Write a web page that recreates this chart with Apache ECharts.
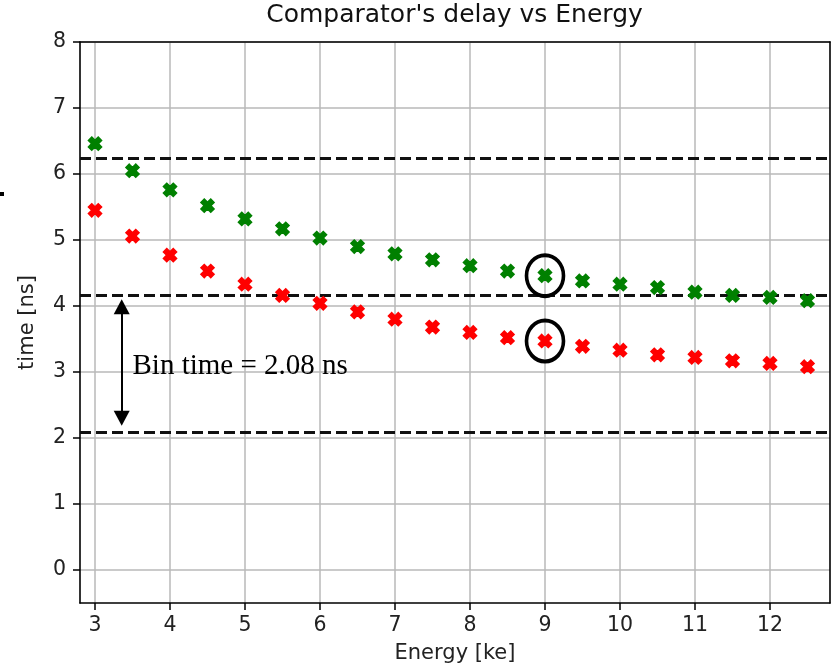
<!DOCTYPE html>
<html>
<head>
<meta charset="utf-8">
<script src="https://cdn.jsdelivr.net/npm/echarts@6/dist/echarts.min.js"></script>
<style>
  html, body { margin: 0; padding: 0; background: #fff; }
  #chart { width: 831px; height: 669px; }
</style>
</head>
<body>
<div id="chart"></div>
<script>
// Comparator delay (ns) measured at each deposited energy (ke)
const energy = [3, 3.5, 4, 4.5, 5, 5.5, 6, 6.5, 7, 7.5, 8, 8.5, 9, 9.5, 10, 10.5, 11, 11.5, 12, 12.5];
const delayGreen = [6.46, 6.05, 5.76, 5.52, 5.32, 5.17, 5.03, 4.90, 4.79, 4.70, 4.61, 4.53, 4.46, 4.38, 4.33, 4.28, 4.21, 4.16, 4.13, 4.08];
const delayRed   = [5.45, 5.06, 4.77, 4.53, 4.33, 4.16, 4.04, 3.91, 3.80, 3.68, 3.60, 3.52, 3.47, 3.39, 3.33, 3.26, 3.22, 3.17, 3.13, 3.08];

// Bin boundaries (multiples of the 2.08 ns bin time)
const binEdges = [2.08, 4.16, 6.24];
const binLabel = 'Bin time = 2.08 ns';

// Highlighted energy point
const highlightEnergy = 9;

// Axis ticks
const xTicks = [3, 4, 5, 6, 7, 8, 9, 10, 11, 12];
const yTicks = [0, 1, 2, 3, 4, 5, 6, 7, 8];

const FONT = 'DejaVu Sans';
const xMarker = 'path://M-1,-2 L0,-1 L1,-2 L2,-1 L1,0 L2,1 L1,2 L0,1 L-1,2 L-2,1 L-1,0 L-2,-1 Z';

const pairs = (ys) => energy.map((x, i) => [x, ys[i]]);
const idx = energy.indexOf(highlightEnergy);

const chart = echarts.init(document.getElementById('chart'), null, { renderer: 'canvas' });

const tickText = { fontSize: 20.5, fontFamily: FONT, color: '#222' };
const nameText = { fontSize: 21, fontFamily: FONT, color: '#222' };
const spine = { onZero: false, lineStyle: { color: '#000', width: 1.6 } };
const frameAxis = {
  axisLine: spine, axisTick: { show: false }, axisLabel: { show: false }, splitLine: { show: false }
};

chart.setOption({
  animation: false,
  backgroundColor: '#fff',
  title: {
    text: "Comparator's delay vs Energy",
    left: 454.5,
    top: 3,
    padding: 0,
    textAlign: 'center',
    textStyle: { fontSize: 25, fontFamily: FONT, fontWeight: 'normal', color: '#111' }
  },
  grid: { left: 80, right: 1, top: 42, bottom: 66 },
  xAxis: [
    {
      type: 'value', min: 2.8, max: 12.8, position: 'bottom',
      name: 'Energy [ke]', nameLocation: 'middle', nameGap: 40,
      nameTextStyle: nameText,
      axisLine: spine,
      axisTick: { show: true, customValues: xTicks, length: 7, lineStyle: { color: '#000', width: 1.5 } },
      axisLabel: Object.assign({ customValues: xTicks, margin: 12 }, tickText),
      splitLine: { show: true, lineStyle: { color: '#b8b8b8', width: 1.5 } }
    },
    Object.assign({ type: 'value', min: 2.8, max: 12.8, position: 'top' }, frameAxis)
  ],
  yAxis: [
    {
      type: 'value', min: -0.5, max: 8, position: 'left',
      name: 'time [ns]', nameLocation: 'middle', nameGap: 42,
      nameTextStyle: nameText,
      axisLine: spine,
      axisTick: { show: true, customValues: yTicks, length: 7, lineStyle: { color: '#000', width: 1.5 } },
      axisLabel: Object.assign({ customValues: yTicks, margin: 14 }, tickText),
      splitLine: { show: true, lineStyle: { color: '#b8b8b8', width: 1.5 } }
    },
    Object.assign({ type: 'value', min: -0.5, max: 8, position: 'right' }, frameAxis)
  ],
  series: [
    {
      name: 'green', type: 'scatter', z: 3,
      symbol: xMarker, symbolSize: 13,
      itemStyle: { color: '#008000', borderColor: '#008000', borderWidth: 1.6, opacity: 1 },
      data: pairs(delayGreen),
      markLine: {
        z: 1, silent: true, symbol: 'none',
        label: { show: false },
        lineStyle: { color: '#111', width: 3, type: [11, 5], opacity: 1 },
        data: binEdges.map(v => ({ yAxis: v }))
      }
    },
    {
      name: 'red', type: 'scatter', z: 3,
      symbol: xMarker, symbolSize: 13,
      itemStyle: { color: '#ff0000', borderColor: '#ff0000', borderWidth: 1.6, opacity: 1 },
      data: pairs(delayRed),
      markLine: {
        z: 2, silent: true,
        symbol: ['triangle', 'triangle'], symbolSize: [16, 15],
        label: { show: false },
        lineStyle: { color: '#000', width: 2, type: 'solid', opacity: 1 },
        data: [[{ coord: [3.356, 3.99] }, { coord: [3.356, 2.30] }]]
      }
    },
    {
      name: 'highlight', type: 'scatter', z: 4,
      symbol: 'circle', symbolSize: [37, 41],
      itemStyle: { color: 'rgba(0,0,0,0)', borderColor: '#000', borderWidth: 3.8, opacity: 1 },
      data: [[energy[idx], delayGreen[idx]], [energy[idx], delayRed[idx]]]
    }
  ]
});

// Bin-time annotation placed in data coordinates
const tp = chart.convertToPixel({ gridIndex: 0 }, [3.5, 3.08]);
chart.setOption({
  graphic: [
    {
      type: 'text', x: tp[0], y: tp[1], z: 10,
      style: { text: binLabel, fontSize: 29, fontFamily: 'Liberation Serif', fill: '#000', align: 'left', verticalAlign: 'middle' }
    },
    { type: 'rect', shape: { x: 0, y: 192, width: 4, height: 4 }, style: { fill: '#000' } }
  ]
});
</script>
</body>
</html>
